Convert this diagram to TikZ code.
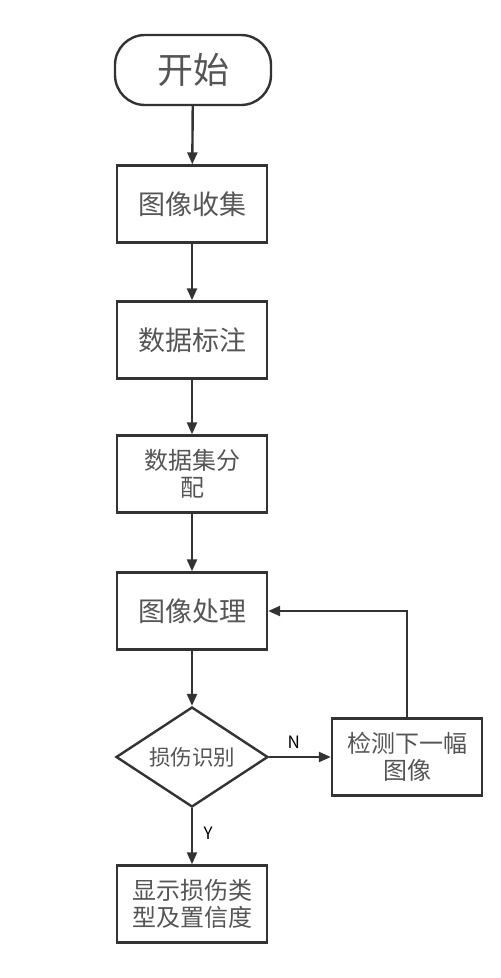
\documentclass[tikz,border=0pt]{standalone}
\usepackage{fontspec}
\setmainfont{Noto Sans CJK SC}
\usetikzlibrary{shapes.geometric,arrows.meta}
\definecolor{linegray}{HTML}{333333}
\definecolor{textgray}{HTML}{555555}
\tikzset{
  stepbox/.style={draw=linegray, fill=white, minimum width=150, minimum height=77,
    align=center, text=textgray, font=\fontsize{27}{30}\selectfont},
  twoline/.style={stepbox, font=\fontsize{24}{27}\selectfont},
  startbox/.style={stepbox, rounded corners=30, minimum width=156, minimum height=70,
    font=\fontsize{36}{40}\selectfont},
  decide/.style={diamond, draw=linegray, fill=white, aspect=1.52, inner sep=0pt,
    minimum width=152, minimum height=100, text=textgray, font=\fontsize{21.5}{24}\selectfont},
  flow/.style={draw=linegray, -{Triangle[length=12pt,width=10pt]}},
  tag/.style={text=black, font=\fontsize{17}{19}\selectfont},
}

\begin{document}
\begin{tikzpicture}[x=1pt, y=-1pt, line width=2.4pt]
  \useasboundingbox (0,0) rectangle (501,978);
  % steps
  \node[startbox] (start)   at (193,70)  {开始};
  \node[stepbox]  (collect) at (192,204) {图像收集};
  \node[stepbox]  (label)   at (192,340) {数据标注};
  \node[twoline]  (split)   at (192,474) {数据集分\\配};
  \node[stepbox]  (process) at (192,611) {图像处理};
  \node[decide]   (detect)  at (192,757) {损伤识别};
  \node[twoline]  (next)    at (407,757) {检测下一幅\\图像};
  \node[twoline]  (show)    at (192,904) {显示损伤类\\型及置信度};
  \coordinate (corner) at (next.north |- process.east);
  % connectors
  \draw[flow] (start) -- (collect);
  \draw[flow] (collect) -- (label);
  \draw[flow] (label) -- (split);
  \draw[flow] (split) -- (process);
  \draw[flow] (process) -- (detect);
  \draw[flow] (detect) -- (next) node[pos=0.4, above=4pt, tag] {N};
  \draw[flow] (detect) -- (show) node[pos=0.45, right=7pt, tag] {Y};
  \draw[flow] (next) -- (corner) -- (process);
\end{tikzpicture}
\end{document}
